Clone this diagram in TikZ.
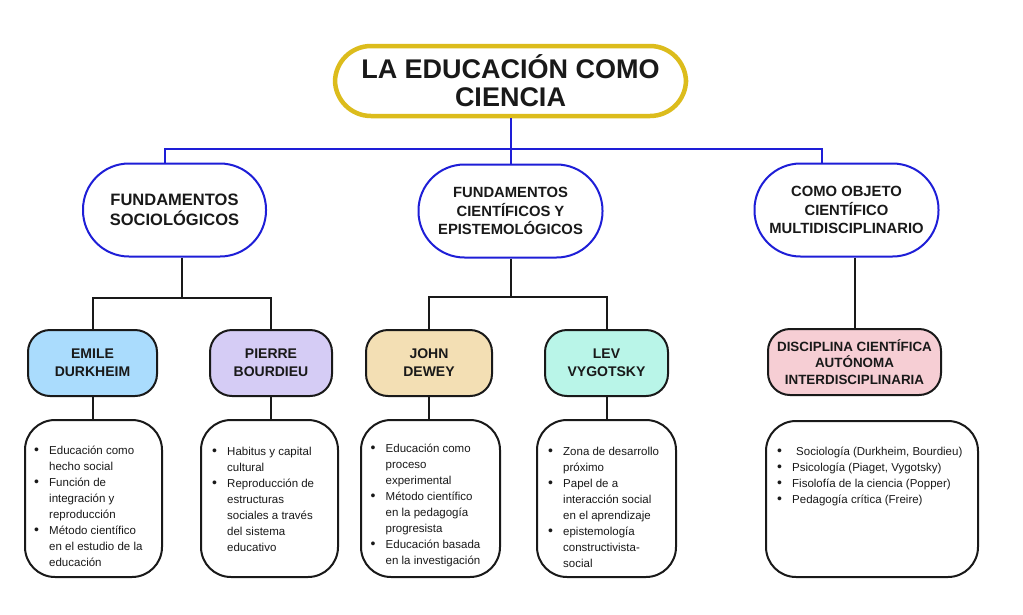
\documentclass[tikz,border=0pt]{standalone}
\usepackage{fontspec}
\setmainfont{Liberation Sans}
\usetikzlibrary{calc}
\definecolor{gold}{RGB}{220,188,28}
\definecolor{blu}{RGB}{30,30,215}
\definecolor{cEmile}{RGB}{170,220,253}
\definecolor{cPierre}{RGB}{213,204,245}
\definecolor{cDewey}{RGB}{243,223,180}
\definecolor{cLev}{RGB}{185,245,232}
\definecolor{cDisc}{RGB}{246,206,212}
\definecolor{ink}{RGB}{25,25,25}
\newcommand\bul{\makebox[15pt][l]{\fontsize{14}{16}\selectfont\textbullet}}
\tikzset{
 titlebox/.style={draw=gold, line width=4.5pt, rounded corners=36pt, fill=white, minimum width=351pt, minimum height=70pt, align=center, inner sep=0, text=ink, font=\fontsize{27}{28}\selectfont\bfseries},
 l2box/.style={draw=blu, line width=2pt, rounded corners=46pt, fill=white, minimum width=183pt, minimum height=93pt, align=center, inner sep=0, text=ink},
 pbox/.style={draw=ink, line width=2pt, rounded corners=22pt, minimum height=66pt, align=center, inner sep=0, text=ink, font=\fontsize{14}{18}\selectfont\bfseries},
 bbox/.style={draw=ink, line width=2pt, rounded corners=30pt, minimum height=157pt, inner sep=0, fill=white},
 btxt/.style={anchor=north west, inner sep=0, text=ink, font=\fontsize{11.5}{16}\selectfont},
 bl/.style={draw=blu, line width=2pt},
 bk/.style={draw=ink, line width=2pt},
}
\begin{document}
\begin{tikzpicture}[x=1pt,y=-1pt]
\useasboundingbox[fill=white] (0,0) rectangle (1023,614);
% title
\node[titlebox] (title) at (510.5,81) {LA EDUCACIÓN COMO\\CIENCIA};
% level 2
\node[l2box, font=\fontsize{16.5}{20}\selectfont\bfseries] (fs) at (174.5,210) {FUNDAMENTOS\\SOCIOLÓGICOS};
\node[l2box, minimum width=184pt, font=\fontsize{14.8}{18.5}\selectfont\bfseries] (fc) at (510.5,211) {FUNDAMENTOS\\CIENTÍFICOS Y\\EPISTEMOLÓGICOS};
\node[l2box, minimum width=184pt, font=\fontsize{14.8}{18.5}\selectfont\bfseries] (fo) at (846.5,210) {COMO OBJETO\\CIENTÍFICO\\MULTIDISCIPLINARIO};
% persons
\node[pbox, fill=cEmile, minimum width=129pt] (emile) at (92.5,363) {EMILE\\DURKHEIM};
\node[pbox, fill=cPierre, minimum width=122pt] (pierre) at (271,363) {PIERRE\\BOURDIEU};
\node[pbox, fill=cDewey, minimum width=126pt] (dewey) at (429,363) {JOHN\\DEWEY};
\node[pbox, fill=cLev, minimum width=123pt] (lev) at (606.5,363) {LEV\\VYGOTSKY};
\node[pbox, fill=cDisc, minimum width=173pt, font=\fontsize{13.4}{16.5}\selectfont\bfseries] (disc) at (854.5,362) {DISCIPLINA CIENTÍFICA\\AUTÓNOMA\\INTERDISCIPLINARIA};
% bullet boxes
\node[bbox, minimum width=137pt] (bE) at (93.5,498.5) {};
\node[bbox, minimum width=137pt] (bP) at (269.5,498.5) {};
\node[bbox, minimum width=139pt] (bD) at (430.5,498.5) {};
\node[bbox, minimum width=139pt] (bV) at (606.5,498.5) {};
\node[bbox, minimum width=212pt, minimum height=156pt] (bR) at (872,499) {};
% bullet texts
\node[btxt] (tE) at (34,443) {\begin{tabular}{@{}l@{}l@{}}
\bul & Educación como\\ & hecho social\\
\bul & Función de\\ & integración y\\ & reproducción\\
\bul & Método científico\\ & en el estudio de la\\ & educación\end{tabular}};
\node[btxt] (tP) at (212,444) {\begin{tabular}{@{}l@{}l@{}}
\bul & Habitus y capital\\ & cultural\\
\bul & Reproducción de\\ & estructuras\\ & sociales a través\\ & del sistema\\ & educativo\end{tabular}};
\node[btxt] (tD) at (370.5,441) {\begin{tabular}{@{}l@{}l@{}}
\bul & Educación como\\ & proceso\\ & experimental\\
\bul & Método científico\\ & en la pedagogía\\ & progresista\\
\bul & Educación basada\\ & en la investigación\end{tabular}};
\node[btxt] (tV) at (548,444) {\begin{tabular}{@{}l@{}l@{}}
\bul & Zona de desarrollo\\ & próximo\\
\bul & Papel de a\\ & interacción social\\ & en el aprendizaje\\
\bul & epistemología\\ & constructivista-\\ & social\end{tabular}};
\node[btxt] (tR) at (777,444) {\begin{tabular}{@{}l@{}l@{}}
\bul & \hspace{4pt}Sociología (Durkheim, Bourdieu)\\
\bul & Psicología (Piaget, Vygotsky)\\
\bul & Fisolofía de la ciencia (Popper)\\
\bul & Pedagogía crítica (Freire)\end{tabular}};
% blue connectors
\draw[bl] (title.south) -- (fc.north);
\draw[bl] ($(fs.north)+(-9.5,0)$) -- ($(fs.north)+(-9.5,-14)$) -- ($(fo.north)+(-24.5,-14)$) -- ($(fo.north)+(-24.5,0)$);
% black connectors
\coordinate (js) at (182,298);
\coordinate (jc) at (510.5,297);
\draw[bk] (fs.south -| js) -- (js);
\draw[bk] (emile.north) |- (js) -| (pierre.north);
\draw[bk] (fc.south) -- (jc);
\draw[bk] (dewey.north) |- (jc) -| (lev.north);
\draw[bk] (fo.south -| disc.north) -- (disc.north);
\draw[bk] (emile.south) -- (emile.south |- bE.north);
\draw[bk] (pierre.south) -- (pierre.south |- bP.north);
\draw[bk] (dewey.south) -- (dewey.south |- bD.north);
\draw[bk] (lev.south) -- (lev.south |- bV.north);
\end{tikzpicture}
\end{document}
